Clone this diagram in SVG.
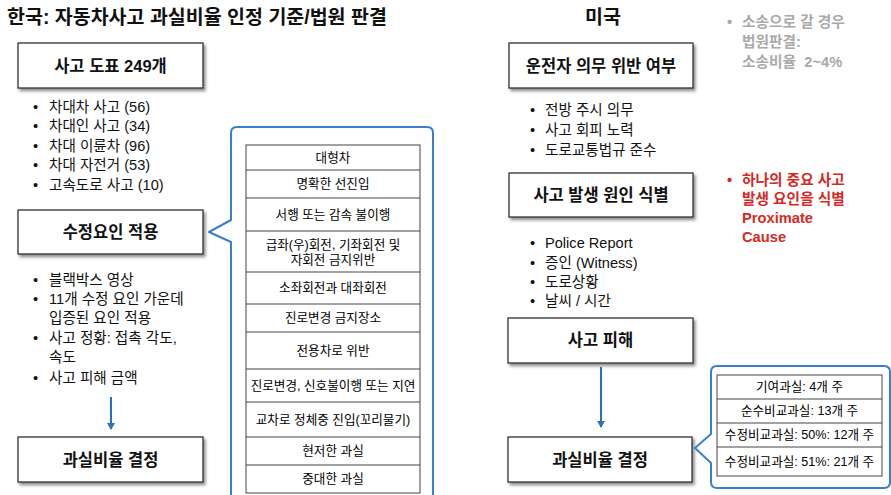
<svg xmlns="http://www.w3.org/2000/svg" width="891" height="495" viewBox="0 0 891 495">
<style>
text{font-family:"Liberation Sans","Noto Sans CJK KR",sans-serif;fill:#111}
.h{font-size:19.5px;font-weight:bold}
.box{fill:#fff;stroke:#333;stroke-width:1.3;filter:url(#sh)}
.bt{font-size:16.5px;font-weight:bold;text-anchor:middle;dominant-baseline:central}
.bl{font-size:14.6px;dominant-baseline:central}
.cell{fill:#fff;stroke:#444;stroke-width:1}
.ct{font-size:12.6px;text-anchor:middle;dominant-baseline:central;fill:#000}
.co{fill:#fff;stroke:#3b7dd0;stroke-width:2;stroke-linejoin:round}
.ar{stroke:#2f6fc0;stroke-width:2;fill:none;marker-end:url(#ah)}
.gr{fill:#a9a9a9;font-size:14.7px;font-weight:bold;dominant-baseline:central;white-space:pre}
.rd{fill:#d52a1f;font-size:14.7px;font-weight:bold;dominant-baseline:central}
</style>
<defs>
<filter id="sh" x="-10%" y="-20%" width="130%" height="160%">
<feDropShadow dx="2" dy="2.5" stdDeviation="1.5" flood-color="#000" flood-opacity="0.45"/>
</filter>
<marker id="ah" markerWidth="8" markerHeight="8" refX="6" refY="4" orient="auto" markerUnits="userSpaceOnUse">
<path d="M0,0 L7,4 L0,8 Z" fill="#2f6fc0"/>
</marker>
</defs>

<g id="titles">
<text class="h" x="7" y="24">한국: 자동차사고 과실비율 인정 기준/법원 판결</text>
<text class="h" x="603" y="24" text-anchor="middle">미국</text>
</g>

<!-- Korea side -->
<g id="kr-chart">
<rect class="box" x="18" y="43" width="185" height="45"/>
<text class="bt" x="110.5" y="66">사고 도표 249개</text>
</g>
<g id="kr-chart-list">
<text class="bl" x="33" y="107">•</text><text class="bl" x="49" y="107">차대차 사고 (56)</text>
<text class="bl" x="33" y="126">•</text><text class="bl" x="49" y="126">차대인 사고 (34)</text>
<text class="bl" x="33" y="146">•</text><text class="bl" x="49" y="146">차대 이륜차 (96)</text>
<text class="bl" x="33" y="165">•</text><text class="bl" x="49" y="165">차대 자전거 (53)</text>
<text class="bl" x="33" y="185">•</text><text class="bl" x="49" y="185">고속도로 사고 (10)</text>
</g>
<g id="kr-adjust">
<rect class="box" x="18" y="210" width="185" height="44"/>
<text class="bt" x="110.5" y="232">수정요인 적용</text>
</g>
<g id="kr-adjust-list">
<text class="bl" x="33" y="280">•</text><text class="bl" x="49" y="280">블랙박스 영상</text>
<text class="bl" x="33" y="299">•</text><text class="bl" x="49" y="299">11개 수정 요인 가운데</text>
<text class="bl" x="49" y="318">입증된 요인 적용</text>
<text class="bl" x="33" y="338">•</text><text class="bl" x="49" y="338">사고 정황: 접촉 각도,</text>
<text class="bl" x="49" y="357">속도</text>
<text class="bl" x="33" y="378">•</text><text class="bl" x="49" y="378">사고 피해 금액</text>
</g>
<g id="kr-result">
<rect class="box" x="18" y="437" width="185" height="45"/>
<text class="bt" x="110.5" y="460">과실비율 결정</text>
</g>
<g id="kr-factors">
<path class="co" d="M231,500 L231,242 L209,232 L231,220 L231,133 Q231,127 237,127 L427,127 Q433,127 433,133 L433,500"/>
<rect class="cell" x="246" y="145" width="174" height="348"/>
<g stroke="#444" stroke-width="1">
<line x1="246" y1="170" x2="420" y2="170"/>
<line x1="246" y1="198" x2="420" y2="198"/>
<line x1="246" y1="231" x2="420" y2="231"/>
<line x1="246" y1="272" x2="420" y2="272"/>
<line x1="246" y1="304" x2="420" y2="304"/>
<line x1="246" y1="332" x2="420" y2="332"/>
<line x1="246" y1="369" x2="420" y2="369"/>
<line x1="246" y1="402" x2="420" y2="402"/>
<line x1="246" y1="437" x2="420" y2="437"/>
<line x1="246" y1="465" x2="420" y2="465"/>
</g>
<text class="ct" x="333" y="157.5">대형차</text>
<text class="ct" x="333" y="184">명확한 선진입</text>
<text class="ct" x="333" y="214.5">서행 또는 감속 불이행</text>
<text class="ct" x="333" y="245">급좌(우)회전, 기좌회전 및</text>
<text class="ct" x="333" y="259.5">자회전 금지위반</text>
<text class="ct" x="333" y="288">소좌회전과 대좌회전</text>
<text class="ct" x="333" y="318">진로변경 금지장소</text>
<text class="ct" x="333" y="350.5">전용차로 위반</text>
<text class="ct" x="333" y="385.5">진로변경, 신호불이행 또는 지연</text>
<text class="ct" x="333" y="419.5">교차로 정체중 진입(꼬리물기)</text>
<text class="ct" x="333" y="451">현저한 과실</text>
<text class="ct" x="333" y="479">중대한 과실</text>
</g>

<!-- US side -->
<g id="us-duty">
<rect class="box" x="509" y="43" width="184" height="45"/>
<text class="bt" x="601" y="66">운전자 의무 위반 여부</text>
</g>
<g id="us-duty-list">
<text class="bl" x="530" y="110">•</text><text class="bl" x="545" y="110">전방 주시 의무</text>
<text class="bl" x="530" y="130">•</text><text class="bl" x="545" y="130">사고 회피 노력</text>
<text class="bl" x="530" y="150">•</text><text class="bl" x="545" y="150">도로교통법규 준수</text>
</g>
<g id="us-cause">
<rect class="box" x="509" y="173" width="184" height="44"/>
<text class="bt" x="601" y="195">사고 발생 원인 식별</text>
</g>
<g id="us-cause-list">
<text class="bl" x="530" y="243">•</text><text class="bl" x="545" y="243">Police Report</text>
<text class="bl" x="530" y="263">•</text><text class="bl" x="545" y="263">증인 (Witness)</text>
<text class="bl" x="530" y="282">•</text><text class="bl" x="545" y="282">도로상황</text>
<text class="bl" x="530" y="301">•</text><text class="bl" x="545" y="301">날씨 / 시간</text>
</g>
<g id="us-damage">
<rect class="box" x="508" y="318" width="185" height="45"/>
<text class="bt" x="600.5" y="340">사고 피해</text>
</g>
<g id="us-result">
<rect class="box" x="508" y="437" width="184" height="45"/>
<text class="bt" x="600" y="460">과실비율 결정</text>
</g>
<g id="us-rules">
<path class="co" d="M711,372 Q711,366 717,366 L884,366 Q890,366 890,372 L890,482 Q890,488 884,488 L717,488 Q711,488 711,482 L711,463 L695,448 L711,434 Z"/>
<rect class="cell" x="717" y="375" width="165" height="101"/>
<g stroke="#444" stroke-width="1">
<line x1="717" y1="399" x2="882" y2="399"/>
<line x1="717" y1="423" x2="882" y2="423"/>
<line x1="717" y1="447" x2="882" y2="447"/>
</g>
<text class="ct" x="799.5" y="387">기여과실: 4개 주</text>
<text class="ct" x="799.5" y="411">순수비교과실: 13개 주</text>
<text class="ct" x="799.5" y="435">수정비교과실: 50%: 12개 주</text>
<text class="ct" x="799.5" y="461.5">수정비교과실: 51%: 21개 주</text>
</g>
<g id="us-note-litigation">
<text class="gr" x="727" y="22">•</text>
<text class="gr" x="742" y="22">소송으로 갈 경우</text>
<text class="gr" x="742" y="42">법원판결:</text>
<text class="gr" x="742" y="62" xml:space="preserve">소송비율  2~4%</text>
</g>
<g id="us-note-proximate">
<text class="rd" x="727" y="180">•</text>
<text class="rd" x="742" y="180">하나의 중요 사고</text>
<text class="rd" x="742" y="199">발생 요인을 식별</text>
<text class="rd" x="742" y="218">Proximate</text>
<text class="rd" x="742" y="237">Cause</text>
</g>

<g id="connectors">
<line class="ar" x1="111" y1="397" x2="111" y2="429"/>
<line class="ar" x1="601" y1="367" x2="601" y2="427"/>
</g>
</svg>
